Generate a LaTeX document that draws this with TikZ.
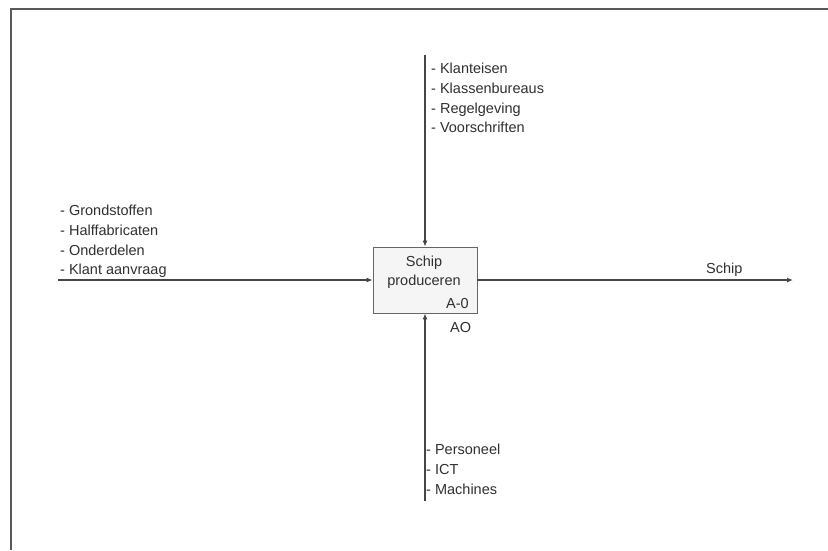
\documentclass[tikz,border=0pt]{standalone}
\usepackage{fontspec}
\setmainfont{Liberation Sans}
\usetikzlibrary{arrows.meta}
\definecolor{ink}{HTML}{303030}
\definecolor{linec}{HTML}{454545}
\definecolor{boxfill}{HTML}{F5F5F5}
\begin{document}
\begin{tikzpicture}[x=1pt,y=-1pt,
  lbl/.style={inner sep=0pt,align=left,text=ink,font=\fontsize{14.5}{19.7}\selectfont},
  flow/.style={draw=linec,line width=1.7pt,-{Latex[length=6pt,width=5pt]}},
  actbox/.style={draw=gray!80!black,fill=boxfill,line width=0.8pt,minimum width=104pt,minimum height=66pt,inner sep=0pt}]
\useasboundingbox (0,0) rectangle (828,550);
\fill[white] (0,0) rectangle (828,550);
\draw[gray!70!black,line width=1.5pt] (11,550) -- (11,9) -- (828,9);
\node[actbox] (box) at (425,280) {};
\node[lbl,align=center,anchor=north,font=\fontsize{14.5}{18.5}\selectfont] (title) at (424,256) {Schip\\produceren};
\node[lbl,anchor=base east] (a0) at (469,308) {A-0};
\node[lbl,anchor=base west] (ao) at (450,332) {AO};
\coordinate (ctop) at (425,55);
\coordinate (cbot) at (425,501);
\coordinate (cleft) at (58,280);
\coordinate (cright) at (793,280);
\draw[flow] (ctop) -- (box.north);
\draw[flow] (cbot) -- (box.south);
\draw[flow] (cleft) -- (box.west);
\draw[flow] (box.east) -- (cright);
\node[lbl,anchor=north west] (ctrl) at (431,63) {- Klanteisen\\- Klassenbureaus\\- Regelgeving\\- Voorschriften};
\node[lbl,anchor=north west] (inp) at (60,205) {- Grondstoffen\\- Halffabricaten\\- Onderdelen\\- Klant aanvraag};
\node[lbl,anchor=north west] (mech) at (426,444) {- Personeel\\- ICT\\- Machines};
\node[lbl,anchor=base west] (out) at (706,273) {Schip};
\end{tikzpicture}
\end{document}
